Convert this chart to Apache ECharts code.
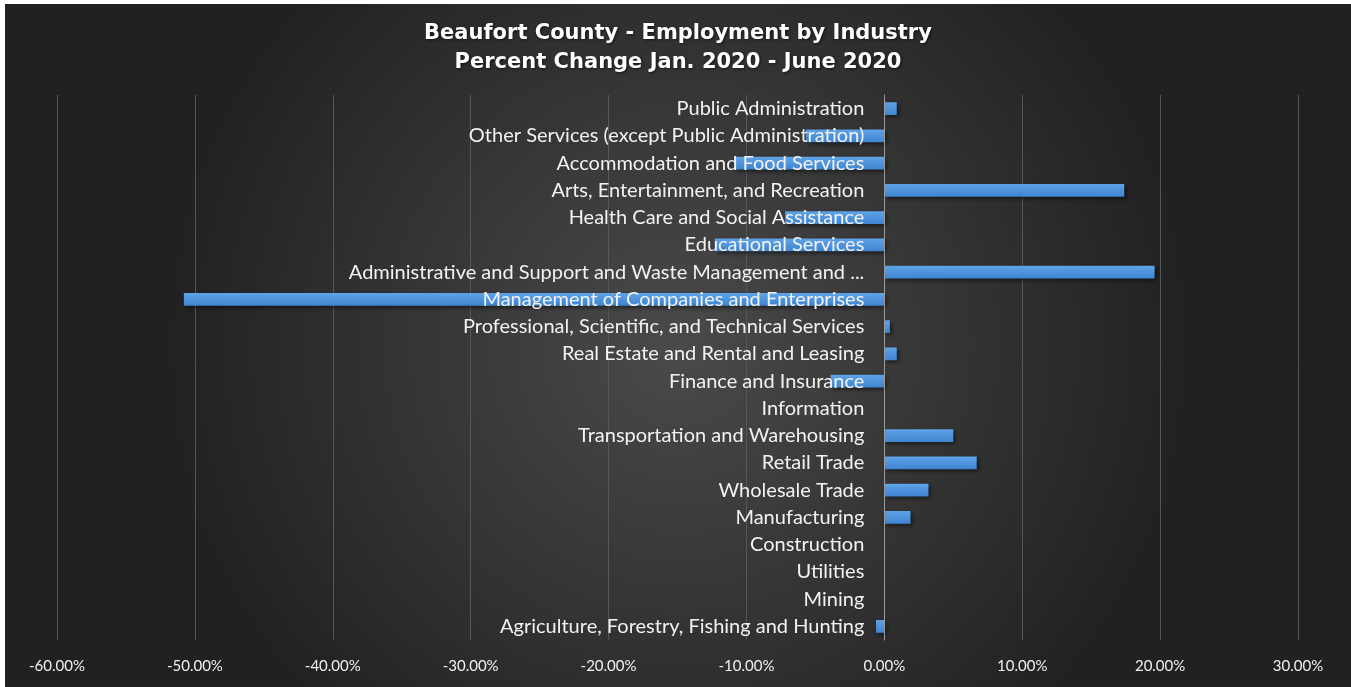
<!DOCTYPE html>
<html>
<head>
<meta charset="utf-8">
<script src="https://cdn.jsdelivr.net/npm/echarts@6/dist/echarts.min.js"></script>
<style>
  html, body { margin: 0; padding: 0; background: #fff; }
  #chart { position: absolute; left: 5px; top: 4px; width: 1346px; height: 683px; }
</style>
</head>
<body>
<div id="chart"></div>
<script>
// industries, bottom to top as drawn
var industries = [
  'Agriculture, Forestry, Fishing and Hunting',
  'Mining',
  'Utilities',
  'Construction',
  'Manufacturing',
  'Wholesale Trade',
  'Retail Trade',
  'Transportation and Warehousing',
  'Information',
  'Finance and Insurance',
  'Real Estate and Rental and Leasing',
  'Professional, Scientific, and Technical Services',
  'Management of Companies and Enterprises',
  'Administrative and Support and Waste Management and Remediation Services',
  'Educational Services',
  'Health Care and Social Assistance',
  'Arts, Entertainment, and Recreation',
  'Accommodation and Food Services',
  'Other Services (except Public Administration)',
  'Public Administration'
];
// percent change Jan 2020 - June 2020 (as fractions)
var pctChange = [
  -0.006, 0, 0, 0, 0.019, 0.032, 0.067, 0.050, 0, -0.039,
  0.009, 0.004, -0.508, 0.196, -0.123, -0.072, 0.174, -0.109, -0.057, 0.009
];
var xTicks = { min: -0.6, max: 0.3, step: 0.1 };

var gridLeft = 52;
var chart = echarts.init(document.getElementById('chart'));
var option = {
  backgroundColor: {
    type: 'radial', x: 0.5, y: 0.5, r: 0.75,
    colorStops: [
      { offset: 0, color: '#4a4a4a' },
      { offset: 1, color: '#212121' }
    ]
  },
  title: {
    text: 'Beaufort County - Employment by Industry\nPercent Change Jan. 2020 - June 2020',
    left: 'center',
    top: 10,
    textStyle: {
      color: '#ffffff',
      fontFamily: 'DejaVu Sans',
      fontWeight: 'bold',
      fontSize: 21,
      lineHeight: 29,
      textShadowColor: 'rgba(0,0,0,0.6)',
      textShadowBlur: 3,
      textShadowOffsetX: 1,
      textShadowOffsetY: 1
    }
  },
  grid: {
    left: gridLeft, right: 53, top: 91, bottom: 47,
    containLabel: false,
    outerBoundsMode: 'none'
  },
  xAxis: {
    type: 'value',
    min: xTicks.min,
    max: xTicks.max,
    interval: xTicks.step,
    axisLine: { show: false },
    axisTick: { show: false },
    splitLine: { lineStyle: { color: '#575757', width: 1 } },
    axisLabel: {
      color: '#f0f0f0',
      fontFamily: 'Lato',
      fontSize: 15,
      margin: 19,
      formatter: function (v) { return (v * 100).toFixed(2) + '%'; }
    }
  },
  yAxis: {
    type: 'category',
    data: industries,
    z: 10,
    axisLine: { show: true, onZero: false, lineStyle: { color: '#9a9a9a', width: 1 } },
    axisTick: { show: false },
    splitLine: { show: false },
    axisLabel: {
      color: '#f2f2f2',
      fontFamily: 'Lato',
      fontSize: 20,
      margin: 20,
      width: 524,
      overflow: 'truncate',
      ellipsis: '...'
    }
  },
  series: [{
    type: 'bar',
    data: pctChange,
    barWidth: '46%',
    itemStyle: {
      color: {
        type: 'linear', x: 0, y: 0, x2: 0, y2: 1,
        colorStops: [
          { offset: 0, color: '#5fa3e8' },
          { offset: 1, color: '#3e84d0' }
        ]
      },
      shadowColor: 'rgba(0,0,0,0.55)',
      shadowBlur: 4,
      shadowOffsetX: 2,
      shadowOffsetY: 2
    }
  }]
};
chart.setOption(option);

// move the category axis (line + labels) onto the 0% position
var zeroX = chart.convertToPixel({ xAxisIndex: 0 }, 0);
chart.setOption({ yAxis: { offset: gridLeft - zeroX } });
</script>
</body>
</html>
